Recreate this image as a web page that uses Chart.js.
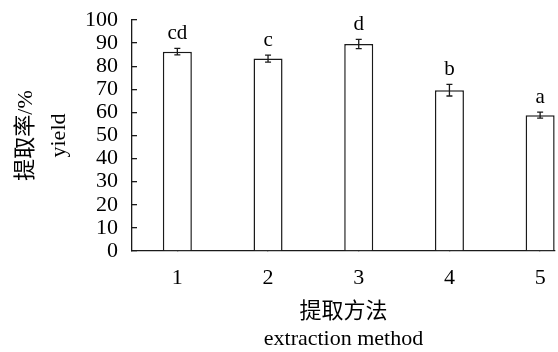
<!DOCTYPE html>
<html>
<head>
<meta charset="utf-8">
<script src="https://cdn.jsdelivr.net/npm/chart.js@4"></script>
<style>
  body { margin: 0; background: #fff; }
</style>
</head>
<body>
<canvas id="chart1" width="558" height="352"></canvas>
<script>
// данные
const methods = [1, 2, 3, 4, 5];
const yieldMean = [86.3, 83.3, 89.6, 69.6, 58.8];
const yieldErr = [1.4, 1.5, 2.0, 2.5, 1.3];
const groupLetters = ['cd', 'c', 'd', 'b', 'a'];
const yTicks = [0, 10, 20, 30, 40, 50, 60, 70, 80, 90, 100];

const FONT = "'Liberation Serif', 'Noto Sans CJK SC', serif";
const LineColor = '#1a1a1a';

// усы погрешностей и буквы над столбцами
const errorBars = {
  id: 'errorBars',
  afterDatasetsDraw(chart) {
    const ctx = chart.ctx;
    const y = chart.scales.y;
    const meta = chart.getDatasetMeta(0);
    ctx.save();
    ctx.strokeStyle = LineColor;
    ctx.lineWidth = 1.3;
    meta.data.forEach((bar, i) => {
      const x = bar.x;
      const top = y.getPixelForValue(yieldMean[i] + yieldErr[i]);
      const bot = y.getPixelForValue(yieldMean[i] - yieldErr[i]);
      ctx.beginPath();
      ctx.moveTo(x, top); ctx.lineTo(x, bot);
      ctx.moveTo(x - 3, top); ctx.lineTo(x + 3, top);
      ctx.moveTo(x - 3, bot); ctx.lineTo(x + 3, bot);
      ctx.stroke();
      ctx.fillStyle = '#000';
      ctx.font = '21px ' + FONT;
      ctx.textAlign = 'center';
      ctx.textBaseline = 'alphabetic';
      ctx.fillText(groupLetters[i], x, top - 9);
    });
    ctx.restore();
  }
};

new Chart('chart1', {
  type: 'bar',
  data: {
    datasets: [{
      data: methods.map((m, i) => ({x: m, y: yieldMean[i]})),
      backgroundColor: '#fff',
      borderColor: LineColor,
      borderWidth: 1.5,
      categoryPercentage: 1,
      barPercentage: 0.32
    }]
  },
  options: {
    responsive: false,
    animation: false,
    layout: { padding: { top: 20, right: 3, bottom: 0, left: 0 } },
    plugins: { legend: { display: false }, tooltip: { enabled: false } },
    scales: {
      x: {
        type: 'linear',
        offset: false,
        min: 0.5,
        max: 5.164,
        afterBuildTicks: s => { s.ticks = methods.map(v => ({value: v})); },
        afterFit: s => { s.height = 101; s.paddingLeft = 0; s.paddingRight = 0; },
        border: { color: LineColor, width: 1.3 },
        grid: { offset: false, drawOnChartArea: false, drawTicks: true, tickLength: -5, color: LineColor, lineWidth: 1.3 },
        ticks: { autoSkip: false, color: '#000', padding: 19, font: { family: FONT, size: 22 } },
        title: {
          display: true,
          text: ['提取方法', 'extraction method'],
          color: '#000',
          font: { family: FONT, size: 22, lineHeight: 1.25 },
          padding: { top: 0, bottom: -1 }
        }
      },
      y: {
        min: 0,
        max: 100,
        afterBuildTicks: s => { s.ticks = yTicks.map(v => ({value: v})); },
        afterFit: s => { s.width = 132; s.paddingTop = 0; s.paddingBottom = 0; },
        border: { color: LineColor, width: 1.3 },
        grid: { drawOnChartArea: false, drawTicks: true, tickLength: -5, color: LineColor, lineWidth: 1.3 },
        ticks: { autoSkip: false, color: '#000', padding: 19, font: { family: FONT, size: 22 } },
        title: {
          display: true,
          text: ['提取率/%', 'yield'],
          color: '#000',
          font: { family: FONT, size: 22, lineHeight: 1.5 },
          padding: { top: 10 }
        }
      }
    }
  },
  plugins: [errorBars]
});
</script>
</body>
</html>
